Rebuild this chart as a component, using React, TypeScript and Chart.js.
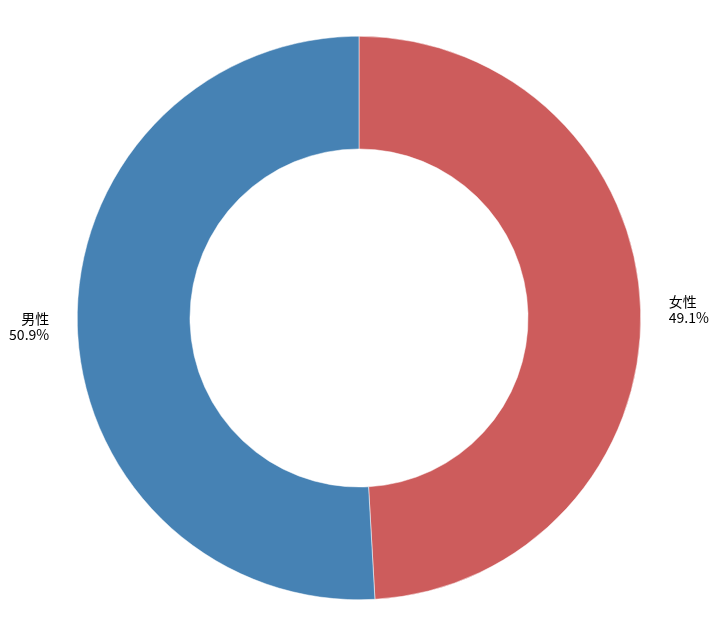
import React, { useEffect, useRef } from "react";
import { Chart, registerables } from "chart.js";

Chart.register(...registerables);

const categories = ["女性", "男性"];
const values = [49.1, 50.9];
const colors = ["#CD5C5C", "#4682B4"];

const FONT = '"Noto Sans CJK SC", "Noto Sans", sans-serif';

const outerLabels = {
  id: "outerLabels",
  afterDraw(chart: any) {
    const ctx = chart.ctx;
    const meta = chart.getDatasetMeta(0);
    const total = values.reduce((a, b) => a + b, 0);
    ctx.save();
    ctx.font = `14px ${FONT}`;
    ctx.fillStyle = "#000";
    ctx.textBaseline = "middle";
    meta.data.forEach((arc: any, i: number) => {
      const p = arc.getProps(["x", "y", "startAngle", "endAngle", "outerRadius"], true);
      const mid = (p.startAngle + p.endAngle) / 2;
      const r = p.outerRadius * 1.1;
      const x = p.x + Math.cos(mid) * r;
      const y = p.y + Math.sin(mid) * r;
      ctx.textAlign = Math.cos(mid) >= 0 ? "left" : "right";
      const pct = ((values[i] / total) * 100).toFixed(1) + "%";
      ctx.fillText(categories[i], x, y - 8);
      ctx.fillText(pct, x, y + 8);
    });
    ctx.restore();
  },
};

export default function App() {
  const ref = useRef<HTMLCanvasElement>(null);
  useEffect(() => {
    const chart = new Chart(ref.current!, {
      type: "doughnut",
      data: {
        labels: categories,
        datasets: [
          {
            data: values,
            backgroundColor: colors,
            borderColor: "#ffffff",
            borderWidth: 0.5,
          },
        ],
      },
      options: {
        responsive: false,
        animation: false,
        cutout: "60%",
        layout: { padding: { left: 77, right: 78, top: 36, bottom: 36 } },
        plugins: {
          legend: { display: false },
          tooltip: { enabled: false },
        },
      },
      plugins: [outerLabels],
    });
    return () => chart.destroy();
  }, []);
  return (
    <div style={{ position: "absolute", left: 0, top: 0, width: 719, height: 636, background: "#fff" }}>
      <canvas ref={ref} width={719} height={636} style={{ display: "block" }} />
    </div>
  );
}
